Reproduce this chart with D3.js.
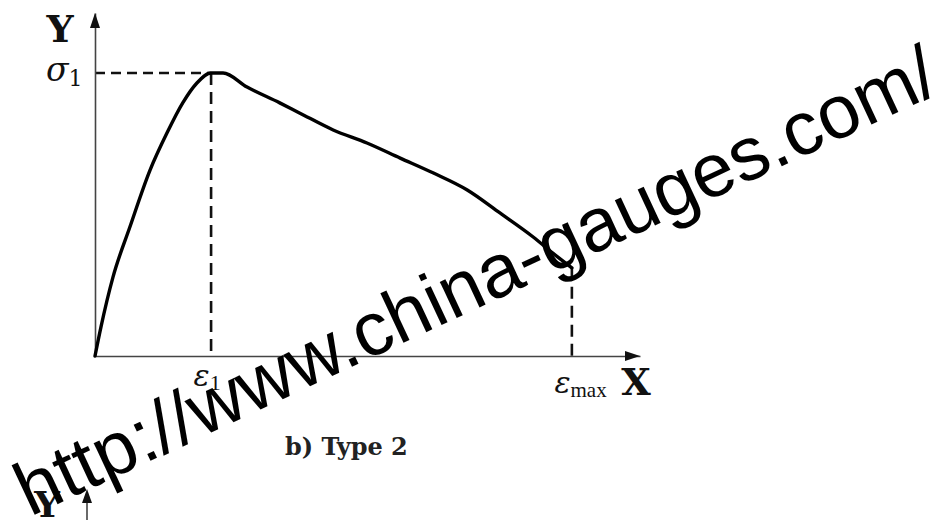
<!DOCTYPE html>
<html>
<head>
<meta charset="utf-8">
<script src="https://cdn.jsdelivr.net/npm/d3@7"></script>
<style>
  html, body { margin: 0; padding: 0; background: #fff; }
  svg { display: block; }
</style>
</head>
<body>
<svg id="chart" width="936" height="520"></svg>
<script>
// ---- data (arbitrary units) ----
const strain = [0, 1.1, 3.3, 6.4, 10.1, 13.2, 16.1, 18.7, 21.3, 23.5, 27.9, 33.9, 37.6, 43.7, 49.9, 56.0, 62.0, 68.3, 74.3, 80.4, 84.0, 87.5];
const stress = [0, 8.5, 23.0, 37.6, 54.2, 65.0, 73.8, 79.6, 82.5, 82.5, 78.4, 73.8, 70.8, 65.9, 62.1, 57.7, 53.4, 48.4, 41.7, 34.7, 30.0, 25.7];
const eps1 = 21.3;
const epsMax = 87.5;
const sigma1 = 82.5;
const xTickValues = [eps1, epsMax];
const xTickLabels = [["ε", "1"], ["ε", "max"]];
const yTickValues = [sigma1];
const yTickLabels = [["σ", "1"]];
const axisTitles = ["X", "Y"];
const caption = "b) Type 2";
const watermark = "http://www.china-gauges.com/";

const svg = d3.select("#chart");
const x = d3.scaleLinear().domain([0, 100]).range([95, 640]);
const y = d3.scaleLinear().domain([0, 100]).range([356, 13]);

// ---- dashed guide lines ----
const g = svg.append("g");
g.append("line")
  .attr("x1", x(0)).attr("x2", x(eps1))
  .attr("y1", y(sigma1)).attr("y2", y(sigma1))
  .attr("stroke", "#111").attr("stroke-width", 2.6).attr("stroke-dasharray", "10,6");
g.append("line")
  .attr("x1", x(eps1)).attr("x2", x(eps1))
  .attr("y1", y(sigma1)).attr("y2", y(0))
  .attr("stroke", "#111").attr("stroke-width", 2.6).attr("stroke-dasharray", "12,7");
const endIdx = strain.length - 1;
g.append("line")
  .attr("x1", x(epsMax)).attr("x2", x(epsMax))
  .attr("y1", y(stress[endIdx])).attr("y2", y(0))
  .attr("stroke", "#111").attr("stroke-width", 2.6).attr("stroke-dasharray", "12,7");

// ---- axes ----
const xAxis = d3.axisBottom(x).tickValues(xTickValues).tickSize(0).tickSizeOuter(0).tickFormat("");
const yAxis = d3.axisLeft(y).tickValues(yTickValues).tickSize(0).tickSizeOuter(0).tickFormat("");

const gx = svg.append("g").attr("transform", `translate(0,${y(0)})`).call(xAxis);
const gy = svg.append("g").attr("transform", `translate(${x(0)},0)`).call(yAxis);
[gx, gy].forEach(a => a.select(".domain").attr("stroke", "#444").attr("stroke-width", 1.6));

// x tick labels
gx.selectAll(".tick text").each(function(d, i) {
  const t = d3.select(this);
  t.text(null).attr("y", 0).attr("dy", null).attr("fill", "#111")
    .attr("text-anchor", "start")
    .attr("x", -18)
    .attr("transform", i === 0 ? "translate(0,30)" : "translate(0,37)");
  const lab = xTickLabels[i];
  t.append("tspan").text(lab[0])
    .attr("font-family", "DejaVu Serif").attr("font-style", "italic").attr("font-size", 30);
  t.append("tspan").text(lab[1]).attr("dy", 4)
    .attr("font-family", "Liberation Serif").attr("font-size", i === 0 ? 22 : 21);
});
// y tick labels
gy.selectAll(".tick text").each(function(d, i) {
  const t = d3.select(this);
  t.text(null).attr("x", -49).attr("dy", null).attr("y", 7).attr("fill", "#111")
    .attr("text-anchor", "start");
  const lab = yTickLabels[i];
  t.append("tspan").text(lab[0])
    .attr("font-family", "DejaVu Serif").attr("font-style", "italic").attr("font-size", 33);
  t.append("tspan").text(lab[1]).attr("dy", 5)
    .attr("font-family", "DejaVu Serif").attr("font-size", 22);
});

// arrowheads
svg.append("path")
  .attr("d", `M${x(100)},${y(0)} L${x(100) - 15},${y(0) - 5} L${x(100) - 15},${y(0) + 5} Z`)
  .attr("fill", "#111");
svg.append("path")
  .attr("d", `M${x(0)},${y(100)} L${x(0) - 5},${y(100) + 15} L${x(0) + 5},${y(100) + 15} Z`)
  .attr("fill", "#111");

// axis titles
svg.append("text").text(axisTitles[0])
  .attr("x", 636).attr("y", 395).attr("text-anchor", "middle")
  .attr("font-family", "DejaVu Serif").attr("font-weight", "bold").attr("font-size", 38).attr("fill", "#111");
svg.append("text").text(axisTitles[1])
  .attr("x", 60).attr("y", 42).attr("text-anchor", "middle")
  .attr("font-family", "DejaVu Serif").attr("font-weight", "bold").attr("font-size", 38).attr("fill", "#111");

// ---- curve ----
const pts = strain.map((s, i) => [s, stress[i]]);
const line = d3.line().x(d => x(d[0])).y(d => y(d[1])).curve(d3.curveMonotoneX);
svg.append("path").datum(pts)
  .attr("d", line)
  .attr("fill", "none").attr("stroke", "#000").attr("stroke-width", 3.4)
  .attr("stroke-linejoin", "round").attr("stroke-linecap", "round");

// ---- caption ----
svg.append("text").text(caption)
  .attr("x", 285).attr("y", 455)
  .attr("font-family", "DejaVu Serif").attr("font-weight", "bold").attr("font-size", 24).attr("fill", "#222");

// ---- next panel's Y axis (partially visible) ----
svg.append("text").text(axisTitles[1])
  .attr("x", 47).attr("y", 517).attr("text-anchor", "middle")
  .attr("font-family", "DejaVu Serif").attr("font-weight", "bold").attr("font-size", 36).attr("fill", "#111");
svg.append("line").attr("x1", 87).attr("x2", 87).attr("y1", 500).attr("y2", 520)
  .attr("stroke", "#444").attr("stroke-width", 1.6);
svg.append("path").attr("d", "M87,489 L82,503 L92,503 Z").attr("fill", "#111");

// ---- watermark ----
svg.append("text").text(watermark)
  .attr("transform", "translate(30,517) rotate(-25)")
  .attr("font-family", "Liberation Sans").attr("font-size", 75.5).attr("fill", "#000");
</script>
</body>
</html>
